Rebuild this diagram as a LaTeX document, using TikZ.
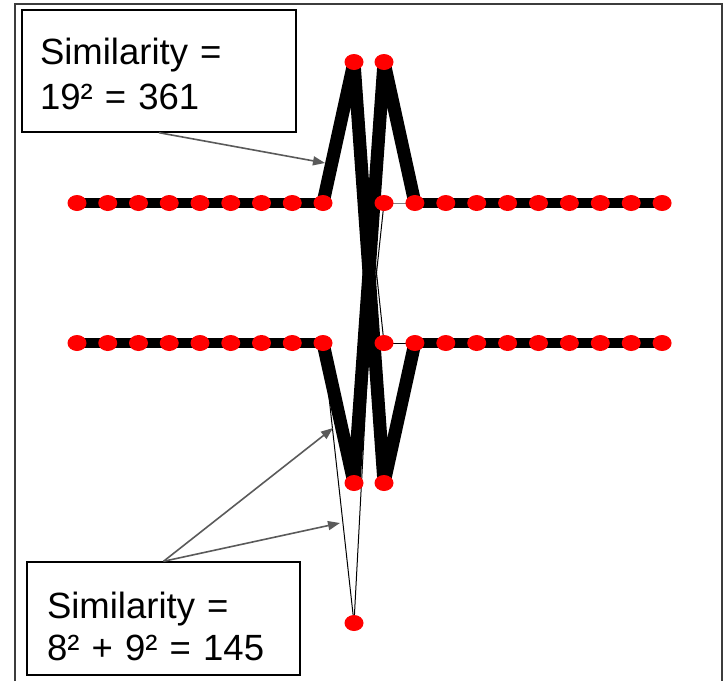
\documentclass[tikz,border=0pt]{standalone}
\usepackage{fontspec}
\setmainfont{Liberation Sans}
\usepackage{tikz}
\usetikzlibrary{shapes.geometric,arrows.meta}
\definecolor{ptred}{HTML}{FF0000}
\definecolor{arrc}{HTML}{5A5A5A}
\definecolor{framec}{HTML}{3C3C3C}
\pgfdeclarelayer{bg}
\pgfsetlayers{bg,main}

\begin{document}
\begin{tikzpicture}[x=1pt,y=-1pt,
  pt/.style={shape=ellipse,fill=ptred,inner sep=0pt,minimum width=19pt,minimum height=16pt},
  heavy/.style={line width=10pt},
  heavier/.style={line width=13pt,line join=round},
  faint/.style={line width=1pt},
  note/.style={draw,line width=1.4pt,align=left,font=\fontsize{36.5}{45}\selectfont},
  pointer/.style={arrc,line width=1.6pt,-{Triangle[length=12pt,width=9pt]}}]
  \useasboundingbox (0,0) rectangle (725,681);
  \draw[framec,line width=1.5pt] (15,681) -- (15,4) -- (722,4) -- (722,681);

  % the two rows
  \foreach \i in {1,...,9} {
    \node[pt] (t\i) at ({77+30.75*(\i-1)},203) {};
    \node[pt] (l\i) at ({77+30.75*(\i-1)},343) {};
  }
  \foreach \i in {1,...,10} {
    \node[pt] (u\i) at ({384+30.9*(\i-1)},203) {};
    \node[pt] (r\i) at ({384+30.9*(\i-1)},343) {};
  }
  \node[pt] (a) at (354,62) {};
  \node[pt] (b) at (384,62) {};
  \node[pt] (c) at (354,483) {};
  \node[pt] (d) at (384,483) {};
  \node[pt] (e) at (354,623) {};

  \begin{pgfonlayer}{bg}
    \foreach \i [count=\j from 2] in {1,...,8} {
      \draw[heavy] (t\i.center) -- (t\j.center);
      \draw[heavy] (l\i.center) -- (l\j.center);
    }
    \foreach \i [count=\j from 3] in {2,...,9} {
      \draw[heavy] (u\i.center) -- (u\j.center);
      \draw[heavy] (r\i.center) -- (r\j.center);
    }
    \draw[heavier] (t9.center) -- (a.center) -- (d.center) -- (r2.center);
    \draw[heavier] (l9.center) -- (c.center) -- (b.center) -- (u2.center);
    \draw[faint,gray] (u1.center) -- (u2.center);
    \draw[faint] (r1.center) -- (r2.center);
    \draw[faint] (u1.center) -- (c.center);
    \draw[faint] (r1.center) -- (a.center);
    \draw[faint] (e.center) -- (l9.center);
    \draw[faint] (e.center) -- (b.center);
  \end{pgfonlayer}

  % annotations
  \node[note,minimum width=274pt,minimum height=122pt,text width=238pt] (simtop) at (159,71) {\rule{0pt}{32pt}Similarity =\\19² = 361};
  \node[note,minimum width=273pt,minimum height=113pt,text width=233pt] (simbot) at (163.5,618.5) {\rule{0pt}{42pt}Similarity =\\[-3pt]8² + 9² = 145};
  \coordinate (hit1) at (325,163);
  \coordinate (hit2) at (333,428);
  \coordinate (hit3) at (340,523);
  \draw[pointer] (simtop.south) -- (hit1);
  \draw[pointer] (simbot.north) -- (hit2);
  \draw[pointer] (simbot.north) -- (hit3);
\end{tikzpicture}
\end{document}
